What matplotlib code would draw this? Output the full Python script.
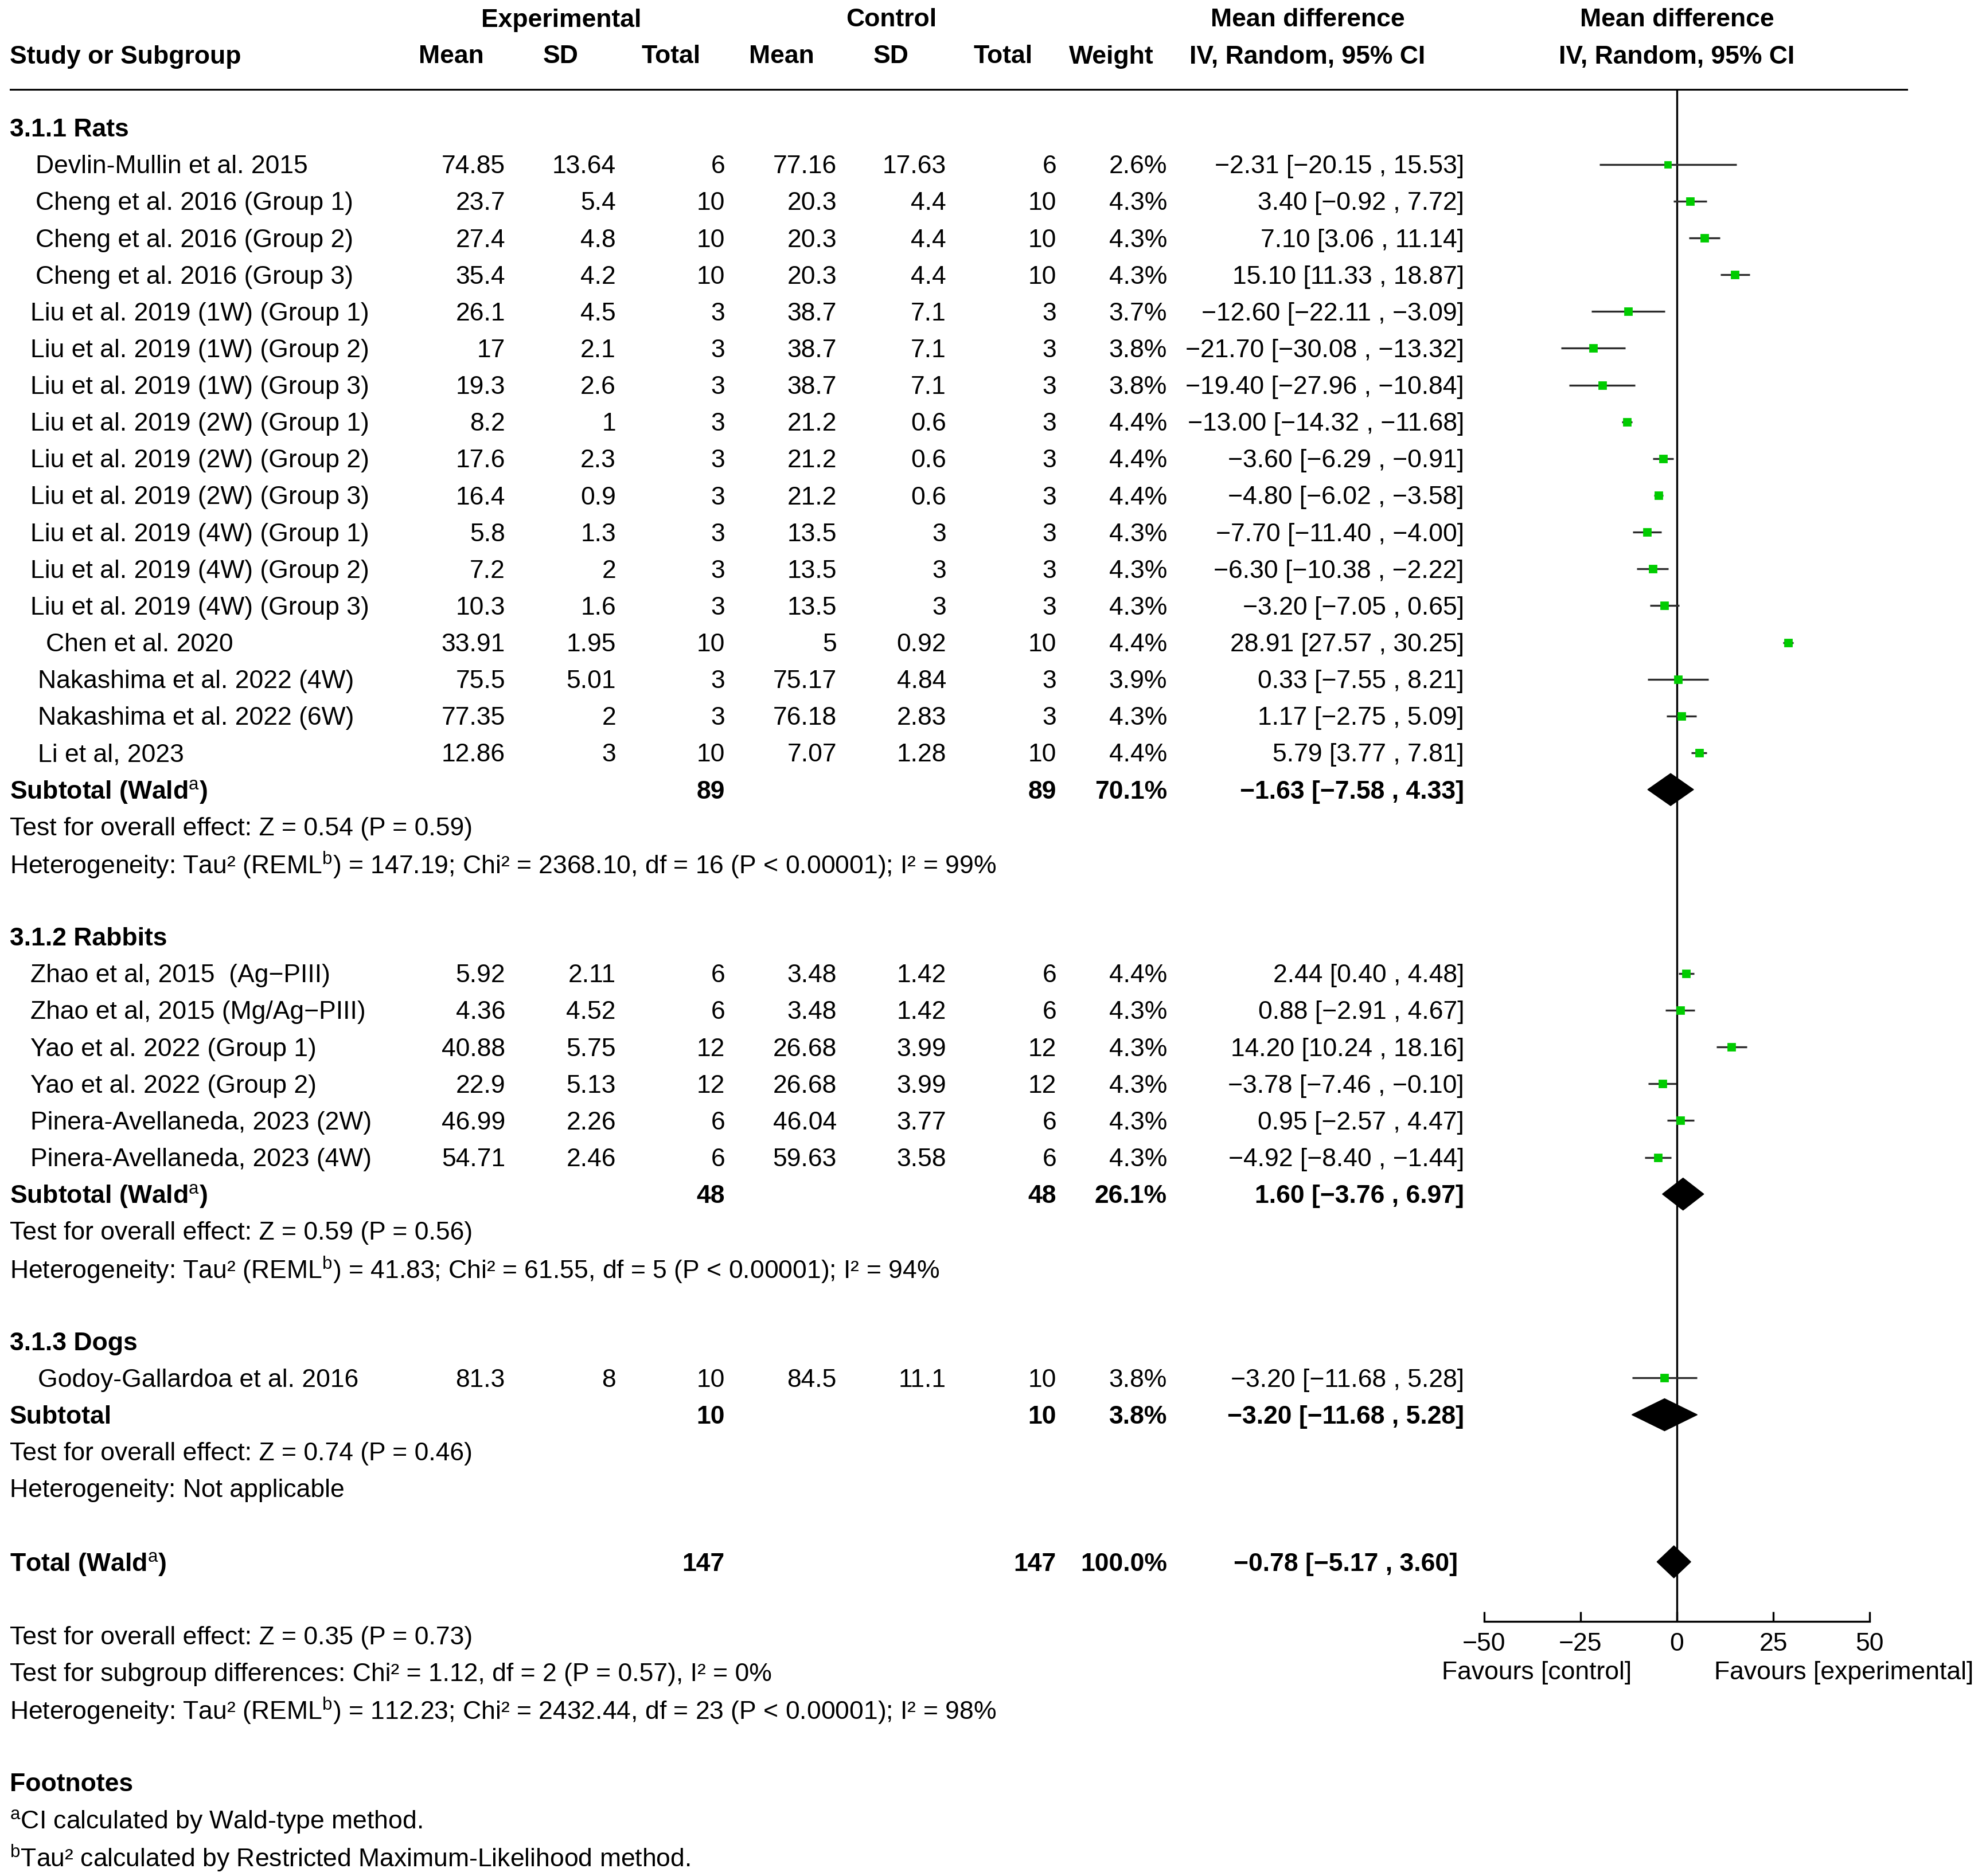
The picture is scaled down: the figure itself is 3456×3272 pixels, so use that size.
import matplotlib
matplotlib.use("Agg")
import matplotlib.pyplot as plt
from matplotlib.patches import Polygon

plt.rcParams['font.family'] = ['Liberation Sans', 'DejaVu Sans']
plt.rcParams['mathtext.fontset'] = 'custom'
plt.rcParams['mathtext.rm'] = 'Liberation Sans'
plt.rcParams['mathtext.it'] = 'Liberation Sans:italic'
plt.rcParams['mathtext.bf'] = 'Liberation Sans:bold'

"""
## Data
"""

rat_study = ["Devlin-Mullin et al. 2015", "Cheng et al. 2016 (Group 1)", "Cheng et al. 2016 (Group 2)",
             "Cheng et al. 2016 (Group 3)", "Liu et al. 2019 (1W) (Group 1)", "Liu et al. 2019 (1W) (Group 2)",
             "Liu et al. 2019 (1W) (Group 3)", "Liu et al. 2019 (2W) (Group 1)", "Liu et al. 2019 (2W) (Group 2)",
             "Liu et al. 2019 (2W) (Group 3)", "Liu et al. 2019 (4W) (Group 1)", "Liu et al. 2019 (4W) (Group 2)",
             "Liu et al. 2019 (4W) (Group 3)", "Chen et al. 2020", "Nakashima et al. 2022 (4W)",
             "Nakashima et al. 2022 (6W)", "Li et al, 2023"]
rat_exp_mean = [74.85, 23.7, 27.4, 35.4, 26.1, 17, 19.3, 8.2, 17.6, 16.4, 5.8, 7.2, 10.3, 33.91, 75.5, 77.35, 12.86]
rat_exp_sd = [13.64, 5.4, 4.8, 4.2, 4.5, 2.1, 2.6, 1, 2.3, 0.9, 1.3, 2, 1.6, 1.95, 5.01, 2, 3]
rat_exp_n = [6, 10, 10, 10, 3, 3, 3, 3, 3, 3, 3, 3, 3, 10, 3, 3, 10]
rat_ctl_mean = [77.16, 20.3, 20.3, 20.3, 38.7, 38.7, 38.7, 21.2, 21.2, 21.2, 13.5, 13.5, 13.5, 5, 75.17, 76.18, 7.07]
rat_ctl_sd = [17.63, 4.4, 4.4, 4.4, 7.1, 7.1, 7.1, 0.6, 0.6, 0.6, 3, 3, 3, 0.92, 4.84, 2.83, 1.28]
rat_ctl_n = [6, 10, 10, 10, 3, 3, 3, 3, 3, 3, 3, 3, 3, 10, 3, 3, 10]
rat_weight = [2.6, 4.3, 4.3, 4.3, 3.7, 3.8, 3.8, 4.4, 4.4, 4.4, 4.3, 4.3, 4.3, 4.4, 3.9, 4.3, 4.4]
rat_md = [-2.31, 3.40, 7.10, 15.10, -12.60, -21.70, -19.40, -13.00, -3.60, -4.80, -7.70, -6.30, -3.20,
          28.91, 0.33, 1.17, 5.79]
rat_lo = [-20.15, -0.92, 3.06, 11.33, -22.11, -30.08, -27.96, -14.32, -6.29, -6.02, -11.40, -10.38, -7.05,
          27.57, -7.55, -2.75, 3.77]
rat_hi = [15.53, 7.72, 11.14, 18.87, -3.09, -13.32, -10.84, -11.68, -0.91, -3.58, -4.00, -2.22, 0.65,
          30.25, 8.21, 5.09, 7.81]

rabbit_study = ["Zhao et al, 2015  (Ag\u2212PIII)", "Zhao et al, 2015 (Mg/Ag\u2212PIII)", "Yao et al. 2022 (Group 1)",
                "Yao et al. 2022 (Group 2)", "Pinera-Avellaneda, 2023 (2W)", "Pinera-Avellaneda, 2023 (4W)"]
rabbit_exp_mean = [5.92, 4.36, 40.88, 22.9, 46.99, 54.71]
rabbit_exp_sd = [2.11, 4.52, 5.75, 5.13, 2.26, 2.46]
rabbit_exp_n = [6, 6, 12, 12, 6, 6]
rabbit_ctl_mean = [3.48, 3.48, 26.68, 26.68, 46.04, 59.63]
rabbit_ctl_sd = [1.42, 1.42, 3.99, 3.99, 3.77, 3.58]
rabbit_ctl_n = [6, 6, 12, 12, 6, 6]
rabbit_weight = [4.4, 4.3, 4.3, 4.3, 4.3, 4.3]
rabbit_md = [2.44, 0.88, 14.20, -3.78, 0.95, -4.92]
rabbit_lo = [0.40, -2.91, 10.24, -7.46, -2.57, -8.40]
rabbit_hi = [4.48, 4.67, 18.16, -0.10, 4.47, -1.44]

dog_study = ["Godoy-Gallardoa et al. 2016"]
dog_exp_mean = [81.3]
dog_exp_sd = [8]
dog_exp_n = [10]
dog_ctl_mean = [84.5]
dog_ctl_sd = [11.1]
dog_ctl_n = [10]
dog_weight = [3.8]
dog_md = [-3.20]
dog_lo = [-11.68]
dog_hi = [5.28]

group_titles = ["3.1.1 Rats", "3.1.2 Rabbits", "3.1.3 Dogs"]
subtotal_labels = ["Subtotal (Wald$^{\\mathrm{a}}$)", "Subtotal (Wald$^{\\mathrm{a}}$)", "Subtotal"]
subtotal_exp_n = [89, 48, 10]
subtotal_ctl_n = [89, 48, 10]
subtotal_weight = [70.1, 26.1, 3.8]
subtotal_md = [-1.63, 1.60, -3.20]
subtotal_lo = [-7.58, -3.76, -11.68]
subtotal_hi = [4.33, 6.97, 5.28]
subtotal_test = ["Test for overall effect: Z = 0.54 (P = 0.59)",
                 "Test for overall effect: Z = 0.59 (P = 0.56)",
                 "Test for overall effect: Z = 0.74 (P = 0.46)"]
subtotal_het = ["Heterogeneity: Tau\u00b2 (REML$^{\\mathrm{b}}$) = 147.19; Chi\u00b2 = 2368.10, df = 16 (P < 0.00001); I\u00b2 = 99%",
                "Heterogeneity: Tau\u00b2 (REML$^{\\mathrm{b}}$) = 41.83; Chi\u00b2 = 61.55, df = 5 (P < 0.00001); I\u00b2 = 94%",
                "Heterogeneity: Not applicable"]

total_n_exp = 147
total_n_ctl = 147
total_weight = 100.0
total_md = -0.78
total_lo = -5.17
total_hi = 3.60
total_notes = ["Test for overall effect: Z = 0.35 (P = 0.73)",
               "Test for subgroup differences: Chi\u00b2 = 1.12, df = 2 (P = 0.57), I\u00b2 = 0%",
               "Heterogeneity: Tau\u00b2 (REML$^{\\mathrm{b}}$) = 112.23; Chi\u00b2 = 2432.44, df = 23 (P < 0.00001); I\u00b2 = 98%"]
footnotes = ["$^{\\mathrm{a}}$CI calculated by Wald-type method.",
             "$^{\\mathrm{b}}$Tau\u00b2 calculated by Restricted Maximum-Likelihood method."]

groups = [
    (rat_study, rat_exp_mean, rat_exp_sd, rat_exp_n, rat_ctl_mean, rat_ctl_sd, rat_ctl_n,
     rat_weight, rat_md, rat_lo, rat_hi),
    (rabbit_study, rabbit_exp_mean, rabbit_exp_sd, rabbit_exp_n, rabbit_ctl_mean, rabbit_ctl_sd, rabbit_ctl_n,
     rabbit_weight, rabbit_md, rabbit_lo, rabbit_hi),
    (dog_study, dog_exp_mean, dog_exp_sd, dog_exp_n, dog_ctl_mean, dog_ctl_sd, dog_ctl_n,
     dog_weight, dog_md, dog_lo, dog_hi),
]

"""
## Layout
"""

W, H = 3456, 3272
DPI = 200
FS = 16
Y0 = 222.6       # first row centre (px)
ROW_H = 64.14    # row step (px)
TEXT_DY = 4      # text sits a little lower than the mark centre
X_LABEL = 17
# left edge of each study label (px), the source indents them unevenly
study_indent = [
    [62, 62, 62, 62, 53, 53, 53, 53, 53, 53, 53, 53, 53, 80, 66, 66, 66],
    [53, 53, 53, 53, 53, 53],
    [66],
]
# right edges of numeric columns (px)
X_EMEAN, X_ESD, X_EN = 881, 1074, 1264
X_CMEAN, X_CSD, X_CN = 1459, 1650, 1842
X_WEIGHT, X_CI = 2035, 2553
# forest panel
AX_X0, AX_X1 = 2588, 3260
AX_TOP, AX_BOT = 156, 2828
GREEN = '#00cc00'


def ypix(row):
    return Y0 + row * ROW_H


def num(v):
    return '{:g}'.format(v)


def signed(v):
    return '{:.2f}'.format(v).replace('-', '\u2212')


def ci_text(md, lo, hi):
    return '{} [{} , {}]'.format(signed(md), signed(lo), signed(hi))


fig = plt.figure(figsize=(W / DPI, H / DPI), dpi=DPI)
tx = fig.add_axes([0, 0, 1, 1])
tx.set_xlim(0, W)
tx.set_ylim(H, 0)
tx.axis('off')

fx = fig.add_axes([AX_X0 / W, (H - AX_BOT) / H, (AX_X1 - AX_X0) / W, (AX_BOT - AX_TOP) / H])
fx.set_xlim(-50, 50)
fx.set_ylim(AX_BOT, AX_TOP)
fx.patch.set_visible(False)
for s in ['left', 'right', 'top']:
    fx.spines[s].set_visible(False)
fx.spines['bottom'].set_linewidth(1.2)
fx.spines['bottom'].set_bounds(-50, 50)
fx.set_xticks([-50, -25, 0, 25, 50])
fx.tick_params(axis='x', direction='in', length=6, width=1.2, labelsize=FS, pad=7)
fx.set_yticks([])
fx.axvline(0, color='black', lw=1.2, zorder=1)


def text(x, row, s, ha='left', bold=False, y=None):
    yy = ypix(row) if y is None else y
    tx.text(x, yy + TEXT_DY, s, ha=ha, va='center', fontsize=FS,
            fontweight='bold' if bold else 'normal', color='black')


def diamond(row, md, lo, hi):
    y = ypix(row)
    h = 28
    fx.add_patch(Polygon([[lo, y], [md, y - h], [hi, y], [md, y + h]], closed=True,
                         facecolor='black', edgecolor='black', lw=0.5, zorder=3, clip_on=False))


# headers
text(979, 0, 'Experimental', ha='center', bold=True, y=31)
text(1554, 0, 'Control', ha='center', bold=True, y=31)
text(2280, 0, 'Mean difference', ha='center', bold=True, y=31)
text(2924, 0, 'Mean difference', ha='center', bold=True, y=31)
text(X_LABEL, 0, 'Study or Subgroup', bold=True, y=95)
for xc, lab in [(787, 'Mean'), (978, 'SD'), (1170, 'Total'), (1363, 'Mean'), (1554, 'SD'),
                (1749, 'Total'), (1938, 'Weight'), (2280, 'IV, Random, 95% CI'), (2924, 'IV, Random, 95% CI')]:
    text(xc, 0, lab, ha='center', bold=True, y=95)
tx.plot([18, 3325], [156, 156], color='black', lw=1.1)

# rows
row = 0
for g, grp in enumerate(groups):
    study, em, esd, en, cm, csd, cn, wt, md, lo, hi = grp
    text(X_LABEL, row, group_titles[g], bold=True)
    row += 1
    for i in range(len(study)):
        text(study_indent[g][i], row, study[i])
        text(X_EMEAN, row, num(em[i]), ha='right')
        text(X_ESD, row, num(esd[i]), ha='right')
        text(X_EN, row, num(en[i]), ha='right')
        text(X_CMEAN, row, num(cm[i]), ha='right')
        text(X_CSD, row, num(csd[i]), ha='right')
        text(X_CN, row, num(cn[i]), ha='right')
        text(X_WEIGHT, row, '{:.1f}%'.format(wt[i]), ha='right')
        text(X_CI, row, ci_text(md[i], lo[i], hi[i]), ha='right')
        y = ypix(row)
        fx.plot([lo[i], hi[i]], [y, y], color='#2b2b2b', lw=1.2, zorder=2, solid_capstyle='butt')
        fx.plot(md[i], y, 's', color=GREEN, ms=2.1 * wt[i] ** 0.5, mec=GREEN, zorder=4)
        row += 1
    text(X_LABEL, row, subtotal_labels[g], bold=True)
    text(X_EN, row, str(subtotal_exp_n[g]), ha='right', bold=True)
    text(X_CN, row, str(subtotal_ctl_n[g]), ha='right', bold=True)
    text(X_WEIGHT, row, '{:.1f}%'.format(subtotal_weight[g]), ha='right', bold=True)
    text(X_CI, row, ci_text(subtotal_md[g], subtotal_lo[g], subtotal_hi[g]), ha='right', bold=True)
    diamond(row, subtotal_md[g], subtotal_lo[g], subtotal_hi[g])
    row += 1
    text(X_LABEL, row, subtotal_test[g])
    row += 1
    text(X_LABEL, row, subtotal_het[g])
    row += 2

# overall
text(X_LABEL, row, 'Total (Wald$^{\\mathrm{a}}$)', bold=True)
text(X_EN, row, str(total_n_exp), ha='right', bold=True)
text(X_CN, row, str(total_n_ctl), ha='right', bold=True)
text(X_WEIGHT, row, '{:.1f}%'.format(total_weight), ha='right', bold=True)
text(X_CI - 11, row, ci_text(total_md, total_lo, total_hi), ha='right', bold=True)
diamond(row, total_md, total_lo, total_hi)
row += 2
for note in total_notes:
    text(X_LABEL, row, note)
    row += 1
row += 1
text(X_LABEL, row, 'Footnotes', bold=True)
row += 1
for note in footnotes:
    text(X_LABEL, row, note)
    row += 1

text(2680, 0, 'Favours [control]', ha='center', y=2913)
text(3215, 0, 'Favours [experimental]', ha='center', y=2913)

fig.savefig('out.png', dpi=DPI, facecolor='white')
